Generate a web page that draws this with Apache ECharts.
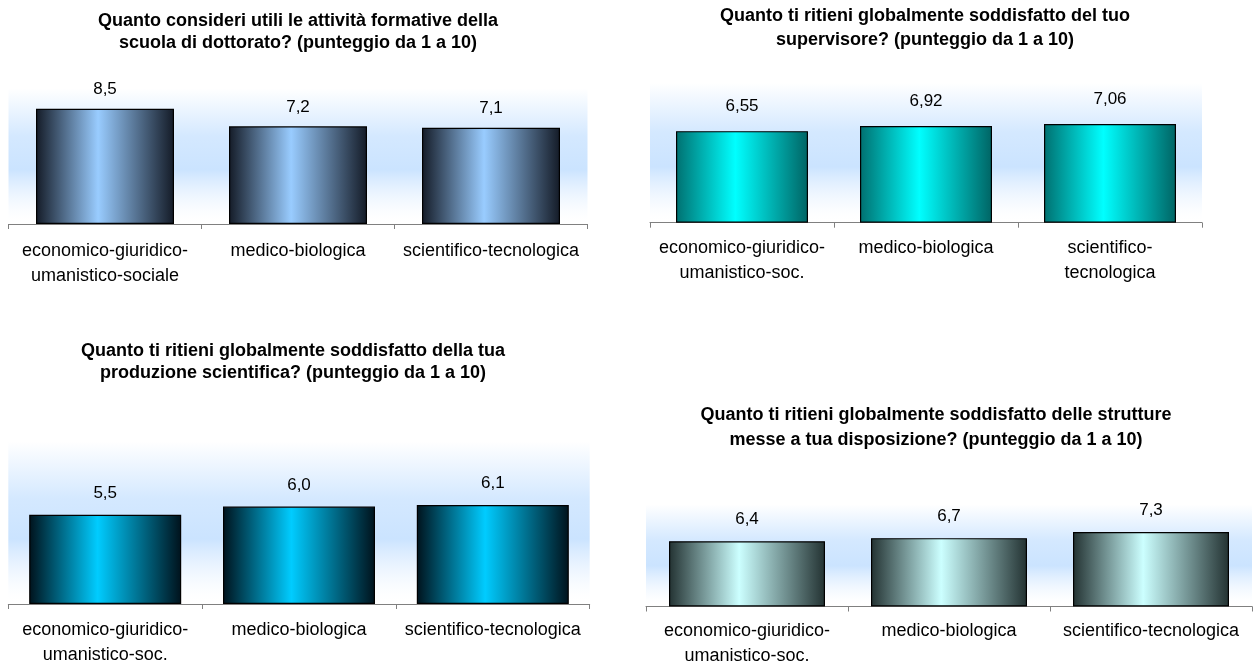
<!DOCTYPE html>
<html>
<head>
<meta charset="utf-8">
<title>Punteggi dottorato</title>
<script src="https://cdn.jsdelivr.net/npm/echarts@6/dist/echarts.min.js"></script>
<style>
  html, body { margin: 0; padding: 0; background: #fff; }
  #chart { width: 1254px; height: 663px; }
</style>
</head>
<body>
<div id="chart"></div>
<script>
// dati dei quattro grafici
const titles = [
  'Quanto consideri utili le attività formative della\nscuola di dottorato? (punteggio da 1 a 10)',
  'Quanto ti ritieni globalmente soddisfatto del tuo\nsupervisore? (punteggio da 1 a 10)',
  'Quanto ti ritieni globalmente soddisfatto della tua\nproduzione scientifica? (punteggio da 1 a 10)',
  'Quanto ti ritieni globalmente soddisfatto delle strutture\nmesse a tua disposizione? (punteggio da 1 a 10)'
]

const categories1 = ['economico-giuridico-\numanistico-sociale', 'medico-biologica', 'scientifico-tecnologica']
const categories2 = ['economico-giuridico-\numanistico-soc.', 'medico-biologica', 'scientifico-\ntecnologica']
const categories3 = ['economico-giuridico-\numanistico-soc.', 'medico-biologica', 'scientifico-tecnologica']
const categories4 = ['economico-giuridico-\numanistico-soc.', 'medico-biologica', 'scientifico-tecnologica']

const values1 = [8.5, 7.2, 7.1]
const values2 = [6.55, 6.92, 7.06]
const values3 = [5.5, 6.0, 6.1]
const values4 = [6.4, 6.7, 7.3]

const decimals = [1, 2, 1, 1]
const scaleMax = 10

const FONT = "'Liberation Sans', Arial, sans-serif"

// posizione di ogni pannello (pixel)
const panels = [
  { left: 8.5, top: 88.4, width: 579, height: 135.6, barWidth: 138, titleX: 298, titleY: 10, titleLH: 22, labelDist: 11, margin: 14.5,
    colors: ['#141b27', '#99ccff', '#141b27'] },
  { left: 650, top: 82.9, width: 552, height: 139.8, barWidth: 132, titleX: 925, titleY: 4, titleLH: 24, labelDist: 16, margin: 13,
    colors: ['#007070', '#00ffff', '#006464'] },
  { left: 8.3, top: 441.6, width: 581.4, height: 162.4, barWidth: 152, titleX: 293, titleY: 340, titleLH: 22, labelDist: 13, margin: 13.5,
    colors: ['#00121c', '#00ccff', '#00121c'] },
  { left: 646, top: 504.5, width: 606, height: 102, barWidth: 156, titleX: 936, titleY: 402.5, titleLH: 25, labelDist: 13, margin: 12,
    colors: ['#233232', '#ccffff', '#233232'] }
]

const allCategories = [categories1, categories2, categories3, categories4]
const allValues = [values1, values2, values3, values4]

// sfondo azzurro sfumato dietro le barre
const glow = () => new echarts.graphic.LinearGradient(0, 0, 0, 1, [
  { offset: 0, color: 'rgba(160, 205, 255, 0)' },
  { offset: 0.35, color: 'rgba(160, 205, 255, 0.45)' },
  { offset: 0.6, color: 'rgba(160, 205, 255, 0.55)' },
  { offset: 0.88, color: 'rgba(200, 225, 255, 0.12)' },
  { offset: 1, color: 'rgba(255, 255, 255, 0)' }
])

const chart = echarts.init(document.getElementById('chart'))

const option = {
  backgroundColor: '#fff',
  animation: false,
  title: panels.map((p, i) => ({
    text: titles[i],
    left: p.titleX,
    top: p.titleY,
    padding: 0,
    textAlign: 'center',
    textVerticalAlign: 'top',
    textStyle: {
      fontFamily: FONT,
      fontSize: 18,
      fontWeight: 'bold',
      color: '#000',
      lineHeight: p.titleLH
    }
  })),
  grid: panels.map(p => ({
    left: p.left,
    top: p.top,
    width: p.width,
    height: p.height,
    containLabel: false,
    outerBoundsMode: 'none',
    show: true,
    borderWidth: 0,
    backgroundColor: glow()
  })),
  xAxis: panels.map((p, i) => ({
    type: 'category',
    gridIndex: i,
    data: allCategories[i],
    axisLine: { lineStyle: { color: '#808080', width: 1 } },
    axisTick: { show: true, length: 5, interval: 0, lineStyle: { color: '#808080' } },
    axisLabel: {
      interval: 0,
      margin: p.margin,
      fontFamily: FONT,
      fontSize: 18,
      lineHeight: 25,
      color: '#000'
    }
  })),
  yAxis: panels.map((p, i) => ({
    type: 'value',
    gridIndex: i,
    min: 0,
    max: scaleMax,
    show: false,
    splitLine: { show: false }
  })),
  series: panels.map((p, i) => ({
    type: 'bar',
    xAxisIndex: i,
    yAxisIndex: i,
    data: allValues[i],
    barWidth: p.barWidth,
    itemStyle: {
      color: new echarts.graphic.LinearGradient(0, 0, 1, 0, [
        { offset: 0, color: p.colors[0] },
        { offset: 0.45, color: p.colors[1] },
        { offset: 1, color: p.colors[2] }
      ]),
      borderColor: '#000',
      borderWidth: 1.2
    },
    label: {
      show: true,
      position: 'top',
      distance: p.labelDist,
      fontFamily: FONT,
      fontSize: 17,
      color: '#000',
      formatter: d => d.value.toFixed(decimals[i]).replace('.', ',')
    }
  }))
}

chart.setOption(option)
</script>
</body>
</html>
